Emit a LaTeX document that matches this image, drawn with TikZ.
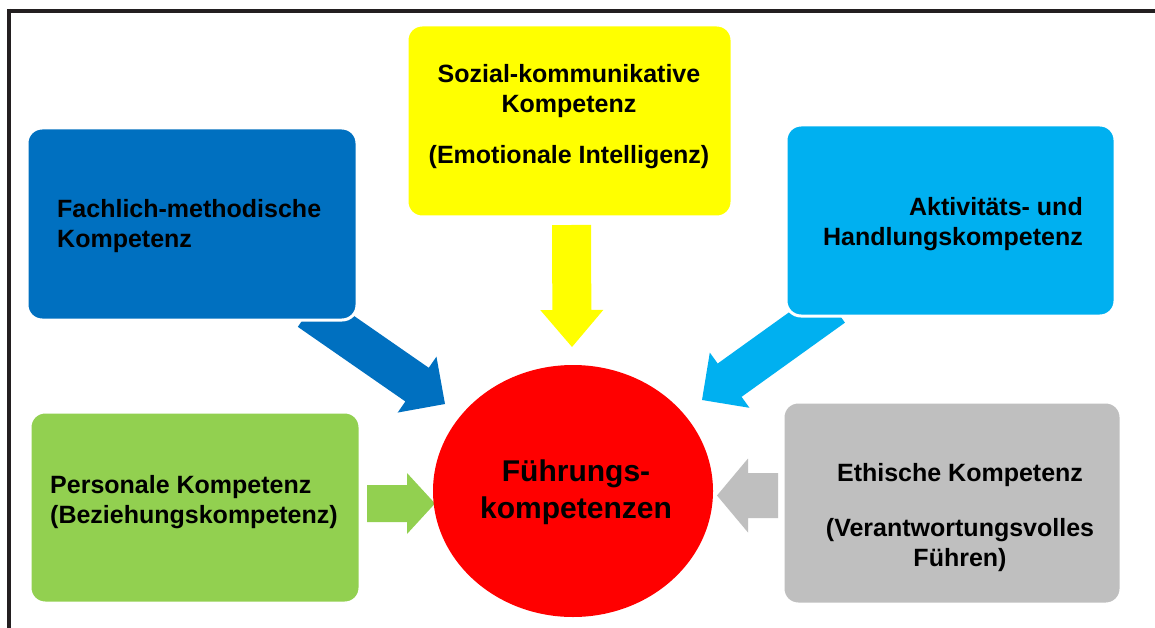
\documentclass[tikz,border=0pt]{standalone}
\usepackage{fontspec}
\setmainfont{Liberation Sans}
\usetikzlibrary{calc,shapes.geometric}
\definecolor{cDarkBlue}{HTML}{0070C0}
\definecolor{cYellow}{HTML}{FFFF00}
\definecolor{cLightBlue}{HTML}{00B0F0}
\definecolor{cGreen}{HTML}{92D050}
\definecolor{cGray}{HTML}{BFBFBF}
\definecolor{cRed}{HTML}{FF0000}
\definecolor{cFrame}{HTML}{231F20}
\newcommand\fatarrow[6]{%
  \path ($(#3)!#6!(#2)$) coordinate (hb);
  \fill[#1] ($(#2)!#4!90:(#3)$) -- ($(hb)!#4!-90:(#2)$) -- ($(hb)!#5!-90:(#2)$)
    -- (#3) -- ($(hb)!#5!90:(#2)$) -- ($(hb)!#4!90:(#2)$) -- ($(#2)!#4!-90:(#3)$) -- cycle;}
\tikzset{
  box/.style={rectangle, rounded corners=15pt, draw=white, line width=3pt, inner sep=0pt},
  boxtext/.style={font=\bfseries\fontsize{25}{30}\selectfont, inner sep=0pt, text=black},
  frameline/.style={draw=cFrame, line width=4pt}
}
\begin{document}
\begin{tikzpicture}[x=1pt,y=-1pt]
\useasboundingbox (0,0) rectangle (1155,628);
\fill[white] (0,0) rectangle (1155,628);
% frame
\draw[frameline] (7,11) -- (1155,11);
\draw[frameline] (9,9) -- (9,628);
% arrow ends
\coordinate (btail) at (309.5,310);
\coordinate (btip) at (445,404);
\coordinate (ltail) at (833,306);
\coordinate (ltip) at (702,400);
\coordinate (ytail) at (571.5,225);
\coordinate (ytip) at (572,347);
\coordinate (gtail) at (367,503.5);
\coordinate (gtip) at (435,503.5);
\coordinate (rtail) at (778,495.5);
\coordinate (rtip) at (717,495.5);
\fatarrow{cDarkBlue}{btail}{btip}{20.5pt}{34pt}{34pt}
\fatarrow{cLightBlue}{ltail}{ltip}{20.5pt}{34pt}{34pt}
\fatarrow{cYellow}{ytail}{ytip}{19.5pt}{31.5pt}{37pt}
\fatarrow{cGreen}{gtail}{gtip}{18.5pt}{30.5pt}{28pt}
\fatarrow{cGray}{rtail}{rtip}{22.5pt}{37pt}{31pt}
% boxes
\node[box, fill=cDarkBlue, minimum width=330pt, minimum height=192pt] (fach) at (192,224) {};
\node[box, fill=cYellow, minimum width=325pt, minimum height=192pt] (sozial) at (569.5,121) {};
\node[box, fill=cLightBlue, minimum width=329pt, minimum height=191pt] (aktiv) at (950.5,220.5) {};
\node[box, fill=cGreen, minimum width=330pt, minimum height=191pt] (person) at (195,507.5) {};
\node[box, fill=cGray, minimum width=338pt, minimum height=202pt] (ethik) at (952,503) {};
\node[ellipse, fill=cRed, minimum width=280pt, minimum height=252pt, inner sep=0pt] (fuehr) at (573,491) {};
% texts
\node[align=center, inner sep=0pt, font=\bfseries\fontsize{30}{37}\selectfont] (fuehrtxt) at (576,492) {Führungs-\\kompetenzen};
\node[boxtext, anchor=west, align=left] (fachtxt) at (57,226) {Fachlich-methodische\\Kompetenz};
\node[boxtext, align=center] (sozialtxt) at (569,117) {Sozial-kommunikative\\Kompetenz\\[21pt](Emotionale Intelligenz)};
\node[boxtext, anchor=east, align=right] (aktivtxt) at (1083,224.5) {Aktivitäts- und\\Handlungskompetenz};
\node[boxtext, anchor=west, align=left] (persontxt) at (50,502.5) {Personale Kompetenz\\(Beziehungskompetenz)};
\node[boxtext, align=center] (ethiktxt1) at (960,475) {Ethische Kompetenz};
\node[boxtext, align=center] (ethiktxt2) at (960,545) {(Verantwortungsvolles\\Führen)};
\end{tikzpicture}
\end{document}
